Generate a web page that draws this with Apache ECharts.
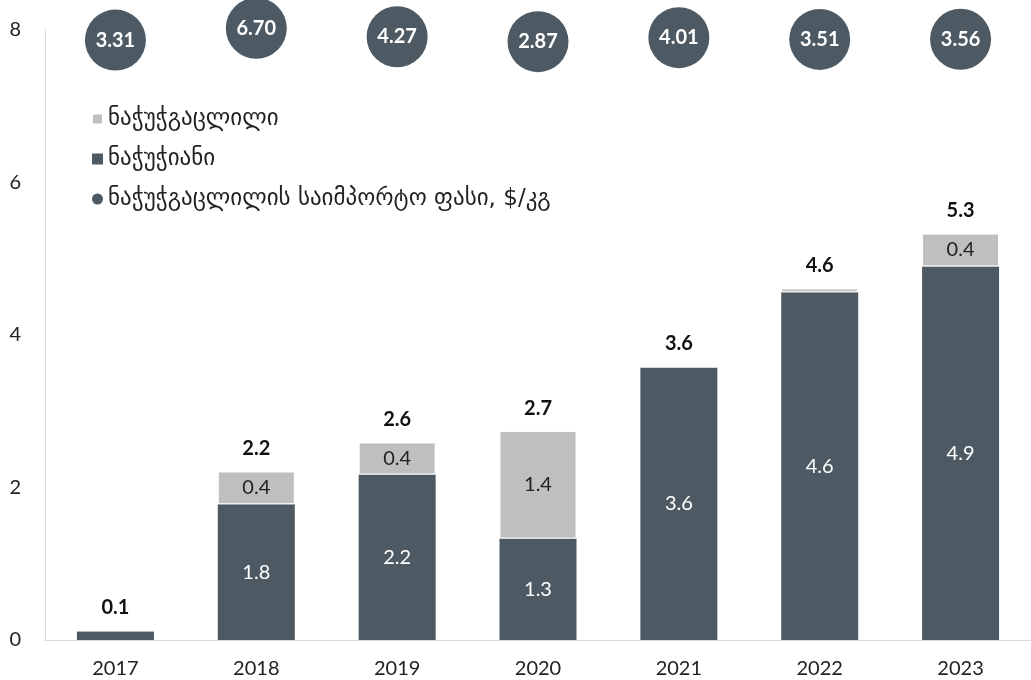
<!DOCTYPE html>
<html>
<head>
<meta charset="utf-8">
<script src="https://cdn.jsdelivr.net/npm/echarts@6/dist/echarts.min.js"></script>
<style>
  html, body { margin: 0; padding: 0; background: #fff; }
  #chart { width: 1031px; height: 680px; }
</style>
</head>
<body>
<div id="chart"></div>
<script>
// Years on the category axis
const years = ['2017', '2018', '2019', '2020', '2021', '2022', '2023'];
// In-shell walnuts (bottom segment)
const inShell = [0.12, 1.78, 2.17, 1.33, 3.58, 4.56, 4.90];
// Shelled walnuts (top segment)
const shelled = [0, 0.43, 0.42, 1.41, 0, 0.05, 0.43];
// Import price of shelled walnuts, $/kg
const price = [3.31, 6.70, 4.27, 2.87, 4.01, 3.51, 3.56];
// Left axis ticks
const yTicks = [0, 2, 4, 6, 8];

const names = {
  shelled: 'ნაჭუჭგაცლილი',
  inShell: 'ნაჭუჭიანი',
  price: 'ნაჭუჭგაცლილის საიმპორტო ფასი, $/კგ'
};

const DARK = '#4d5a63';
const LIGHT = '#bfbfbf';
const FONT = 'Lato, "DejaVu Sans", sans-serif';

const totals = inShell.map((v, i) => v + shelled[i]);

const chart = echarts.init(document.getElementById('chart'), null, { renderer: 'canvas' });

chart.setOption({
  animation: false,
  textStyle: { fontFamily: FONT },
  grid: { left: 45, top: 30, width: 990, height: 610, containLabel: false },
  legend: {
    orient: 'vertical',
    left: 86,
    top: 102,
    itemWidth: 11,
    itemHeight: 11,
    itemGap: 16,
    textStyle: { fontSize: 23, color: '#222', fontFamily: '"DejaVu Sans", sans-serif', lineHeight: 24 },
    data: [
      { name: names.shelled, icon: 'rect' },
      { name: names.inShell, icon: 'rect' },
      { name: names.price, icon: 'circle' }
    ]
  },
  xAxis: {
    type: 'category',
    data: years,
    axisLine: { show: true, lineStyle: { color: '#d9d9d9', width: 1 } },
    axisTick: { show: false },
    axisLabel: { fontSize: 20, color: '#222', margin: 19, fontFamily: FONT }
  },
  yAxis: [
    {
      type: 'value',
      min: yTicks[0],
      max: yTicks[yTicks.length - 1],
      interval: yTicks[1] - yTicks[0],
      axisLine: { show: true, lineStyle: { color: '#d9d9d9', width: 1 } },
      axisTick: { show: false },
      splitLine: { show: false },
      axisLabel: { fontSize: 20, color: '#222', margin: 24, fontFamily: FONT }
    },
    {
      // hidden scale for the price bubbles
      type: 'value',
      min: -168,
      max: 6.2,
      show: false,
      splitLine: { show: false }
    }
  ],
  series: [
    {
      name: names.inShell,
      type: 'bar',
      stack: 'total',
      barWidth: 77,
      data: inShell,
      itemStyle: { color: DARK },
      label: {
        show: true,
        position: 'inside',
        color: '#fff',
        fontSize: 20,
        fontFamily: FONT,
        formatter: p => (p.value >= 0.3 ? p.value.toFixed(1) : '')
      }
    },
    {
      name: names.shelled,
      type: 'bar',
      stack: 'total',
      barWidth: 77,
      data: shelled,
      itemStyle: { color: LIGHT, borderColor: '#fff', borderWidth: 1 },
      label: {
        show: true,
        position: 'inside',
        color: '#222',
        fontSize: 20,
        fontFamily: FONT,
        formatter: p => (p.value >= 0.3 ? p.value.toFixed(1) : '')
      }
    },
    {
      // zero-height cap carrying the stack total
      name: 'total',
      type: 'bar',
      stack: 'total',
      barWidth: 77,
      data: totals.map(() => 0),
      itemStyle: { color: 'transparent' },
      label: {
        show: true,
        position: 'top',
        distance: 13,
        color: '#111',
        fontWeight: 'bold',
        fontSize: 20,
        fontFamily: FONT,
        formatter: p => totals[p.dataIndex].toFixed(1)
      },
      tooltip: { show: false }
    },
    {
      name: names.price,
      type: 'scatter',
      yAxisIndex: 1,
      clip: false,
      data: price,
      symbol: 'circle',
      symbolSize: 61,
      itemStyle: { color: DARK, opacity: 1 },
      label: {
        show: true,
        position: 'inside',
        color: '#fff',
        fontWeight: 'bold',
        fontSize: 20,
        fontFamily: FONT,
        formatter: p => p.value.toFixed(2)
      },
      z: 5
    }
  ]
});
</script>
</body>
</html>
